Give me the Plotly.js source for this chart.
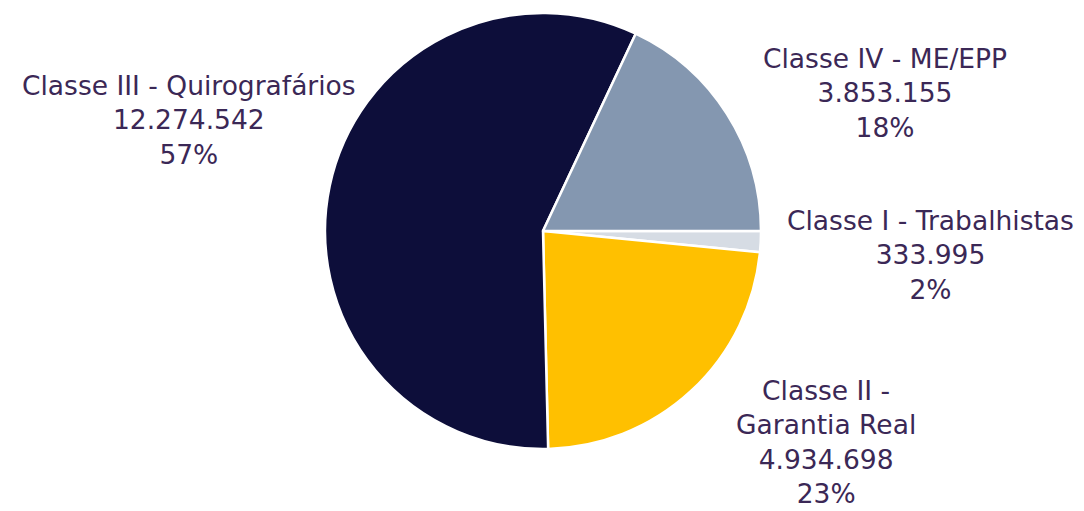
<!DOCTYPE html>
<html>
<head>
<meta charset="utf-8">
<script src="https://cdn.plot.ly/plotly-3.0.1.min.js"></script>
<style>html,body{margin:0;padding:0;background:#fff;}#chart{width:1084px;height:511px;}</style>
</head>
<body>
<div id="chart"></div>
<script>
const labels = ["Classe I - Trabalhistas", "Classe II - Garantia Real", "Classe III - Quirografários", "Classe IV - ME/EPP"];
const displayLabels = ["Classe I - Trabalhistas", "Classe II -<br>Garantia Real", "Classe III - Quirografários", "Classe IV - ME/EPP"];
const values = [333995, 4934698, 12274542, 3853155];
const colors = ["#d6dce4", "#ffc000", "#0d0e3a", "#8497b0"];

// label block centres in pixels (layout only)
const labelPos = [[930, 255], [826, 442], [189, 120], [885, 93]];

const W = 1084, H = 511;
const M = {l: 2, r: 0, t: 13, b: 62};

function fmt(v) {
  return String(v).replace(/\B(?=(\d{3})+(?!\d))/g, ".");
}
const total = values.reduce((a, b) => a + b, 0);

const annotations = values.map((v, i) => ({
  xref: "paper", yref: "paper",
  x: (labelPos[i][0] - M.l) / (W - M.l - M.r),
  y: 1 - (labelPos[i][1] - M.t) / (H - M.t - M.b),
  xanchor: "center", yanchor: "middle",
  text: displayLabels[i] + "<br>" + fmt(v) + "<br>" + Math.round(v / total * 100) + "%",
  showarrow: false,
  align: "center",
  font: {family: "'DejaVu Sans', sans-serif", size: 26.5, color: "#3b2856"}
}));

const data = [{
  type: "pie",
  labels: labels,
  values: values,
  sort: false,
  direction: "clockwise",
  rotation: 90,
  marker: {colors: colors, line: {color: "#ffffff", width: 2.5}},
  textinfo: "none",
  hoverinfo: "none",
  showlegend: false
}];

const layout = {
  width: W, height: H,
  margin: M,
  paper_bgcolor: "#ffffff",
  plot_bgcolor: "#ffffff",
  showlegend: false,
  annotations: annotations
};

Plotly.newPlot("chart", data, layout, {displayModeBar: false, staticPlot: true});
</script>
</body>
</html>
